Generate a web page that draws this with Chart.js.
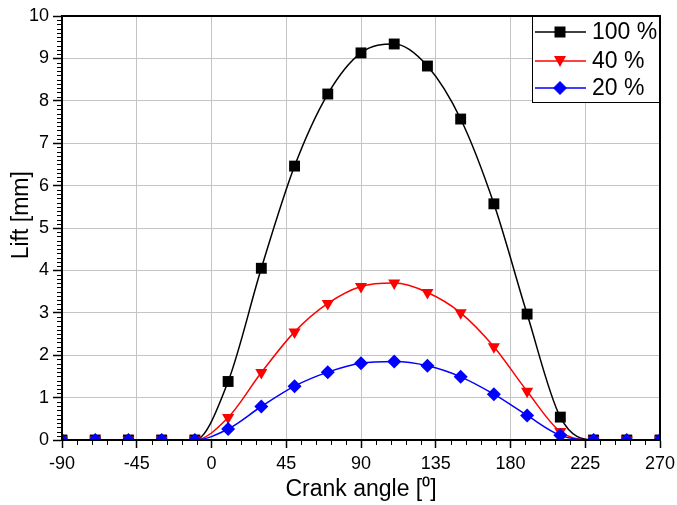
<!DOCTYPE html>
<html>
<head>
<meta charset="utf-8">
<script src="https://cdn.jsdelivr.net/npm/chart.js@4.4.1/dist/chart.umd.min.js"></script>
<style>
  html, body { margin: 0; padding: 0; background: #fff; }
  #wrap { width: 677px; height: 505px; }
</style>
</head>
<body>
<div id="wrap"><canvas id="liftChart" width="677" height="505"></canvas></div>
<script>
// crank angle in degrees, lift in mm
const crankAngle = [-90, -70, -50, -30, -10, 10, 30, 50, 70, 90, 110, 130, 150, 170, 190, 210, 230, 250, 270];
const lift100 = [0, 0, 0, 0, 0, 1.38, 4.05, 6.46, 8.16, 9.13, 9.34, 8.82, 7.57, 5.57, 2.97, 0.54, 0, 0, 0];
const lift40 = [0, 0, 0, 0, 0, 0.53, 1.59, 2.55, 3.22, 3.62, 3.70, 3.48, 3.00, 2.20, 1.15, 0.2, 0, 0, 0];
const lift20 = [0, 0, 0, 0, 0, 0.26, 0.79, 1.27, 1.60, 1.81, 1.85, 1.75, 1.49, 1.08, 0.58, 0.11, 0, 0, 0];
const seriesNames = ['100 %', '40 %', '20 %'];
const seriesColors = ['#000000', '#ff0000', '#0000ff'];

const FONT = 'Liberation Sans, Arial, sans-serif';

function toPoints(ys) {
  return crankAngle.map((x, i) => ({ x: x, y: ys[i] }));
}

// minor ticks + closing frame
const frameAndMinor = {
  id: 'frameAndMinor',
  afterDraw(chart) {
    const { ctx, chartArea } = chart;
    const x = chart.scales.x, y = chart.scales.y;
    ctx.save();
    ctx.strokeStyle = '#000';
    ctx.lineWidth = 1;
    ctx.beginPath();
    for (let v = -90; v <= 270; v += 9) {
      if (v % 45 === 0) continue;
      const px = Math.round(x.getPixelForValue(v)) + 0.5;
      ctx.moveTo(px, chartArea.bottom);
      ctx.lineTo(px, chartArea.bottom + 5);
    }
    for (let i = 0; i <= 100; i++) {
      if (i % 10 === 0) continue;
      const py = Math.round(y.getPixelForValue(i / 10)) + 0.5;
      ctx.moveTo(chartArea.left - 5, py);
      ctx.lineTo(chartArea.left, py);
    }
    ctx.stroke();
    ctx.lineWidth = 2;
    ctx.strokeRect(chartArea.left, chartArea.top, chartArea.right - chartArea.left, chartArea.bottom - chartArea.top);
    ctx.restore();
  }
};

function drawMarker(ctx, kind, cx, cy, color) {
  ctx.fillStyle = color;
  ctx.beginPath();
  if (kind === 'square') {
    ctx.rect(cx - 5.5, cy - 5.5, 11, 11);
  } else if (kind === 'down') {
    ctx.moveTo(cx - 6, cy - 5);
    ctx.lineTo(cx + 6, cy - 5);
    ctx.lineTo(cx, cy + 6);
    ctx.closePath();
  } else {
    ctx.moveTo(cx, cy - 7);
    ctx.lineTo(cx + 7, cy);
    ctx.lineTo(cx, cy + 7);
    ctx.lineTo(cx - 7, cy);
    ctx.closePath();
  }
  ctx.fill();
}

// legend box like the original (line through marker)
const boxLegend = {
  id: 'boxLegend',
  afterDraw(chart) {
    const { ctx, chartArea } = chart;
    const w = 128, h = 87;
    const left = chartArea.right - w, top = chartArea.top;
    const kinds = ['square', 'down', 'diamond'];
    const rows = [16, 45, 72];
    ctx.save();
    ctx.fillStyle = '#fff';
    ctx.fillRect(left, top, w, h);
    ctx.strokeStyle = '#000';
    ctx.lineWidth = 1;
    ctx.strokeRect(left + 0.5, top + 0.5, w - 1, h - 1);
    ctx.font = '23px ' + FONT;
    ctx.textBaseline = 'middle';
    seriesNames.forEach((name, i) => {
      const cy = top + rows[i];
      ctx.strokeStyle = seriesColors[i];
      ctx.lineWidth = 1.5;
      ctx.beginPath();
      ctx.moveTo(left + 3, cy);
      ctx.lineTo(left + 54, cy);
      ctx.stroke();
      drawMarker(ctx, kinds[i], left + 28, cy, seriesColors[i]);
      ctx.fillStyle = '#000';
      ctx.fillText(name, left + 60, cy + 1);
    });
    ctx.restore();
  }
};

const ctx = document.getElementById('liftChart');
new Chart(ctx, {
  type: 'line',
  data: {
    datasets: [
      {
        label: seriesNames[0], data: toPoints(lift100), order: 3,
        borderColor: seriesColors[0], backgroundColor: seriesColors[0], borderWidth: 1.5,
        pointStyle: 'rect', pointRadius: 7.7, pointBorderWidth: 0,
        cubicInterpolationMode: 'monotone'
      },
      {
        label: seriesNames[1], data: toPoints(lift40), order: 2,
        borderColor: seriesColors[1], backgroundColor: seriesColors[1], borderWidth: 1.5,
        pointStyle: 'triangle', rotation: 180, pointRadius: 7, pointBorderWidth: 0,
        cubicInterpolationMode: 'monotone'
      },
      {
        label: seriesNames[2], data: toPoints(lift20), order: 1,
        borderColor: seriesColors[2], backgroundColor: seriesColors[2], borderWidth: 1.5,
        pointStyle: 'rectRot', pointRadius: 7, pointBorderWidth: 0,
        cubicInterpolationMode: 'monotone'
      }
    ]
  },
  options: {
    responsive: false,
    devicePixelRatio: 1,
    animation: false,
    layout: { padding: { left: 0, right: 17, top: 16, bottom: 0 } },
    plugins: { legend: { display: false }, tooltip: { enabled: false } },
    scales: {
      x: {
        type: 'linear', min: -90, max: 270,
        ticks: { stepSize: 45, color: '#000', font: { family: FONT, size: 18 }, padding: 5, maxRotation: 0 },
        grid: { color: '#c4c4c4', lineWidth: 1, tickColor: '#000', tickLength: 8, tickWidth: 1.5 },
        border: { color: '#000', width: 2 },
        title: { display: true, text: 'Crank angle [\u2070]', color: '#000', font: { family: FONT, size: 23 }, padding: { top: 0, bottom: 2 } },
        afterFit(scale) {
          scale.height = 65;
          scale.paddingLeft = 0;
          scale.paddingRight = 0;
        }
      },
      y: {
        min: 0, max: 10,
        ticks: { stepSize: 1, color: '#000', font: { family: FONT, size: 18 }, padding: 4 },
        grid: { color: '#c4c4c4', lineWidth: 1, tickColor: '#000', tickLength: 9, tickWidth: 1.5 },
        border: { color: '#000', width: 2 },
        title: { display: true, text: '    Lift [mm]', color: '#000', font: { family: FONT, size: 23 }, padding: { top: 8, bottom: 0 } },
        afterFit(scale) { scale.width = 62; }
      }
    }
  },
  plugins: [frameAndMinor, boxLegend]
});
</script>
</body>
</html>
